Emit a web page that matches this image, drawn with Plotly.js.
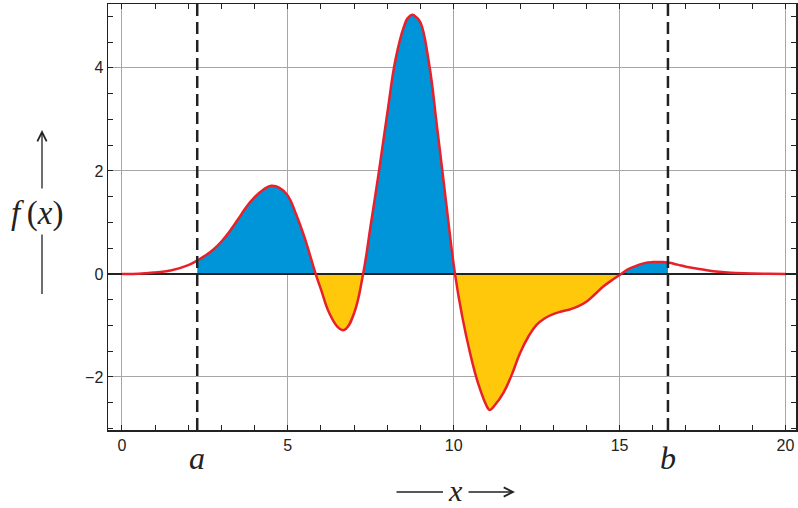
<!DOCTYPE html>
<html>
<head>
<meta charset="utf-8">
<script src="https://cdn.plot.ly/plotly-3.0.1.min.js"></script>
<style>html,body{margin:0;padding:0;background:#fff;}#chart{width:798px;height:508px;}</style>
</head>
<body>
<div id="chart"></div>
<script>
// values
const xValues = [0, 0.5, 1, 1.5, 2, 2.27, 2.5, 2.75, 3, 3.25, 3.5, 3.75, 4, 4.25, 4.5, 4.75, 5, 5.25, 5.5, 5.84, 6, 6.25, 6.5, 6.64, 6.75, 7, 7.27, 7.5, 7.75, 8, 8.25, 8.5, 8.62, 8.75, 8.88, 9, 9.25, 9.5, 9.75, 10.04, 10.25, 10.5, 10.75, 11, 11.08, 11.25, 11.5, 11.75, 12, 12.25, 12.5, 12.75, 13, 13.25, 13.5, 13.75, 14, 14.25, 14.5, 14.75, 15.05, 15.25, 15.5, 15.75, 16, 16.25, 16.46, 16.75, 17, 17.5, 18, 18.5, 19, 19.5, 20];
const fValues = [0, 0.004, 0.03, 0.07, 0.17, 0.26, 0.35, 0.47, 0.63, 0.83, 1.06, 1.30, 1.49, 1.63, 1.71, 1.67, 1.52, 1.16, 0.72, 0, -0.30, -0.76, -1.03, -1.09, -1.07, -0.76, 0, 0.95, 2.0, 3.12, 4.17, 4.80, 4.97, 5.03, 4.98, 4.88, 4.12, 2.85, 1.51, 0, -0.80, -1.55, -2.15, -2.57, -2.64, -2.54, -2.31, -1.96, -1.54, -1.22, -0.99, -0.86, -0.78, -0.73, -0.69, -0.63, -0.54, -0.40, -0.25, -0.13, 0, 0.09, 0.155, 0.21, 0.23, 0.23, 0.22, 0.18, 0.14, 0.085, 0.04, 0.02, 0.008, 0.003, 0];
const lowerLimit = 2.27;   // a
const upperLimit = 16.46;  // b
const limitLabels = ['a', 'b'];
const xTickValues = [0, 5, 10, 15, 20];
const yTickValues = [-2, 0, 2, 4];
const xRange = [-0.42, 20.32];
const yRange = [-3.03, 5.24];

const positiveColor = '#0094d8';
const negativeColor = '#ffc80b';
const curveColor = '#e8202a';
const ink = '#222222';
const smooth = 1.3;

// split the area between a and b into lobes of constant sign
const lobes = [];
let cur = null;
for (let i = 0; i < xValues.length; i++) {
  const x = xValues[i], y = fValues[i];
  if (x < lowerLimit || x > upperLimit) continue;
  const s = y > 0 ? 1 : (y < 0 ? -1 : 0);
  if (s === 0) {
    if (cur) { cur.x.push(x); cur.y.push(y); lobes.push(cur); }
    cur = {sign: 0, x: [x], y: [y]};
  } else {
    if (!cur) cur = {sign: s, x: [], y: []};
    if (cur.sign === 0) cur.sign = s;
    cur.x.push(x); cur.y.push(y);
  }
}
if (cur && cur.x.length > 1) lobes.push(cur);

const traces = lobes.map(l => ({
  type: 'scatter', mode: 'lines', x: l.x, y: l.y,
  line: {width: 0, shape: 'spline', smoothing: smooth, color: l.sign > 0 ? positiveColor : negativeColor},
  fill: 'tozeroy', fillcolor: l.sign > 0 ? positiveColor : negativeColor,
  hoverinfo: 'skip', showlegend: false
}));
// zero line
traces.push({type: 'scatter', mode: 'lines', x: xRange, y: [0, 0],
  line: {color: ink, width: 2}, hoverinfo: 'skip', showlegend: false});
// curve
traces.push({type: 'scatter', mode: 'lines', x: xValues, y: fValues,
  line: {color: curveColor, width: 2.5, shape: 'spline', smoothing: smooth}, showlegend: false});

const L = 108, R = 2, T = 4, B = 78, W = 798, H = 508;
const pw = W - L - R, ph = H - T - B;
const px = v => (v - L) / pw;
const py = v => (H - B - v) / ph;

const serif = 'Liberation Serif, Times New Roman, serif';
const annotations = [];
[lowerLimit, upperLimit].forEach((v, i) => {
  annotations.push({xref: 'x', yref: 'paper', x: v, y: py(458), text: '<i>' + limitLabels[i] + '</i>',
    showarrow: false, font: {family: serif, size: 32, color: ink}, xanchor: 'center', yanchor: 'middle'});
});
// x axis title with arrows
annotations.push({xref: 'paper', yref: 'paper', x: px(455), y: py(490), text: '<i>x</i>', showarrow: false,
  font: {family: serif, size: 30, color: ink}, xanchor: 'center', yanchor: 'middle'});
annotations.push({xref: 'paper', yref: 'paper', x: px(443), y: py(492), ax: -48, ay: 0, text: '',
  showarrow: true, arrowhead: 0, arrowwidth: 1.3, arrowcolor: ink});
annotations.push({xref: 'paper', yref: 'paper', x: px(515), y: py(492), ax: -48, ay: 0, text: '',
  showarrow: true, arrowhead: 5, arrowsize: 1.4, arrowwidth: 1.3, arrowcolor: ink});
// y axis title with arrows
annotations.push({xref: 'paper', yref: 'paper', x: px(37), y: py(213), text: '<i>f</i>&#8201;(<i>x</i>)', showarrow: false,
  font: {family: serif, size: 33, color: ink}, xanchor: 'center', yanchor: 'middle'});
annotations.push({xref: 'paper', yref: 'paper', x: px(42), y: py(130), ax: 0, ay: 60, text: '',
  showarrow: true, arrowhead: 5, arrowsize: 1.4, arrowwidth: 1.3, arrowcolor: ink});
annotations.push({xref: 'paper', yref: 'paper', x: px(42), y: py(294), ax: 0, ay: -61, text: '',
  showarrow: true, arrowhead: 0, arrowwidth: 1.3, arrowcolor: ink});

const shapes = [lowerLimit, upperLimit].map(v => ({
  type: 'line', xref: 'x', yref: 'paper', x0: v, x1: v, y0: 0, y1: 1,
  line: {color: ink, width: 2.5, dash: '12px,6px'}
}));

const axisCommon = {
  showline: true, linecolor: ink, linewidth: 1.5, mirror: 'allticks',
  ticks: 'inside', ticklen: 5, tickwidth: 1, tickcolor: ink,
  showgrid: true, gridcolor: '#a6a6a6', gridwidth: 1, zeroline: false,
  tickfont: {family: 'Liberation Sans, Arial, sans-serif', size: 16, color: ink},
  fixedrange: true
};

const layout = {
  width: W, height: H,
  margin: {l: L, r: R, t: T, b: B},
  paper_bgcolor: '#ffffff', plot_bgcolor: '#ffffff',
  showlegend: false,
  xaxis: Object.assign({}, axisCommon, {range: xRange, tickmode: 'array', tickvals: xTickValues,
    minor: {dtick: 1, tick0: 0, ticks: 'inside', ticklen: 5, tickcolor: ink, showgrid: false}}),
  yaxis: Object.assign({}, axisCommon, {range: yRange, tickmode: 'array', tickvals: yTickValues,
    minor: {dtick: 0.5, tick0: 0, ticks: 'inside', ticklen: 5, tickcolor: ink, showgrid: false}}),
  shapes: shapes,
  annotations: annotations
};

Plotly.newPlot('chart', traces, layout, {displayModeBar: false, staticPlot: true});
</script>
</body>
</html>
